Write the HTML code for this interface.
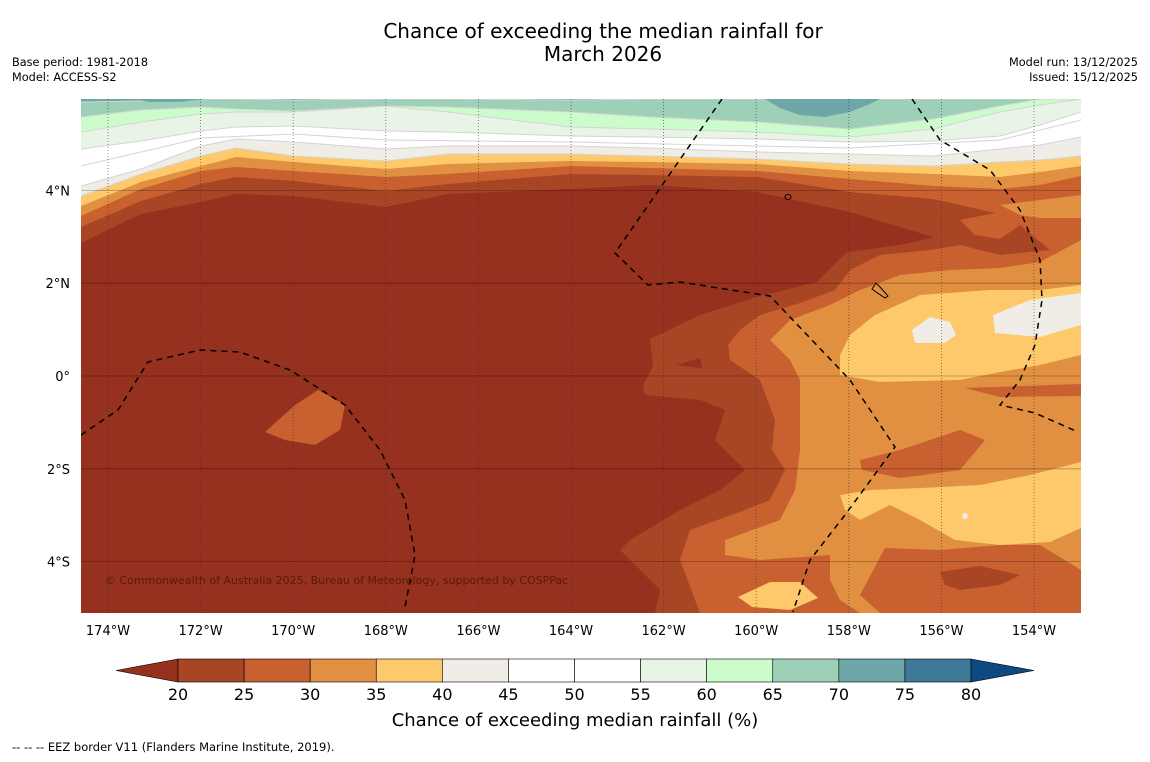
<!DOCTYPE html>
<html><head><meta charset="utf-8"><style>
body{margin:0;background:#fff;width:1150px;height:758px;overflow:hidden;font-family:"DejaVu Sans",sans-serif}
</style></head><body>
<svg id="c" width="1150" height="758" xmlns="http://www.w3.org/2000/svg" font-family="DejaVu Sans, sans-serif">
<text x="603" y="38" text-anchor="middle" font-size="20">Chance of exceeding the median rainfall for</text>
<text x="603" y="61" text-anchor="middle" font-size="20">March 2026</text>
<text x="12" y="66" font-size="11.3">Base period: 1981-2018</text>
<text x="12" y="81" font-size="11.3">Model: ACCESS-S2</text>
<text x="1138" y="66" font-size="11.3" text-anchor="end">Model run: 13/12/2025</text>
<text x="1138" y="81" font-size="11.3" text-anchor="end">Issued: 15/12/2025</text>
<defs><clipPath id="mc"><rect x="81" y="99" width="1000" height="514"/></clipPath></defs>
<g id="map" clip-path="url(#mc)"></g>
<g id="axes"></g>
<g id="cbar"></g>
<text x="575" y="726" text-anchor="middle" font-size="18">Chance of exceeding median rainfall (%)</text>
<text x="12" y="751" font-size="11.5">--  --  -- EEZ border V11 (Flanders Marine Institute, 2019).</text>
</svg>
<script>
const NS="http://www.w3.org/2000/svg";
const lonTicks=[-174,-172,-170,-168,-166,-164,-162,-160,-158,-156,-154];
const latTicks=[4,2,0,-2,-4];
const cbValues=[20,25,30,35,40,45,50,55,60,65,70,75,80];
const cbColors=["#a84524","#c8602f","#e09040","#fdc96a","#f0ece6","#ffffff","#ffffff","#e8f5e6","#ccfccc","#9ed0b8","#6fa6a8","#3d7897"];
const lowColor="#96301f", highColor="#0e4a80";
const X=lon=>108+(lon+174)*46.3;
const Y=lat=>376-lat*46.4;
function el(t,a,p){const e=document.createElementNS(NS,t);for(const k in a)e.setAttribute(k,a[k]);(p||document.getElementById('c')).appendChild(e);return e;}
const map=document.getElementById('map');
let b=el('rect',{x:81,y:99,width:1000,height:514,fill:lowColor},map);


const bx=[81,141,201,236,294,386,448,571,650,757,850,933,1000,1040,1081];
const bands=[
 [0,[243,214,202,194,196,207,194,189,185,192,212,237,230,220,215]],
 [1,[227,201,184,177,181,191,184,174,175,177,192,199,214,205,195]],
 [2,[216,189,171,167,171,177,174,166,168,171,179,186,189,185,176]],
 [3,[206,182,166,157,162,169,164,161,162,164,171,174,177,172,166]],
 [4,[196,174,156,148,156,161,154,154,156,159,164,166,162,160,156]],
 [5,[186,169,146,139,142,149,146,146,148,152,154,156,149,145,137]],
 [7,[149,141,131,127,126,131,132,136,137,139,142,141,136,125,112]],
 [8,[132,122,114,112,112,106,112,127,129,132,137,129,112,105,99]],
 [9,[117,110,107,109,111,106,107,112,117,122,129,119,106,99,99]],
 [10,[102,101,99,99,100,99,99,100,99,99,99,99,99,99,99]]
];
const right={
0:[["1081,200 960,215 935,237 900,245 847,252 817,282 760,296 700,315 650,339 653,366 643,386 645,395 700,400 725,410 715,440 745,470 720,490 680,510 630,540 620,550 660,590 655,613 1081,613"]],
1:[["1081,205 1000,212 960,220 975,235 1000,239 1020,225 1050,250 1000,255 960,245 930,250 880,255 850,270 835,290 800,303 760,315 740,330 728,345 730,360 760,380 775,420 772,450 785,470 770,500 745,510 690,530 680,560 700,613 1081,613"],["265,432 295,405 318,390 345,405 340,430 315,445 285,440"]],
2:[["1081,240 1040,262 1000,268 950,270 900,275 860,290 830,305 790,320 770,340 790,360 800,380 800,450 795,490 780,520 725,540 725,555 760,560 830,555 830,580 840,600 860,613 1081,613"],["1081,195 1040,200 1000,205 1020,215 1040,218 1081,218"]],
3:[["1081,285 1040,290 990,290 920,295 875,315 850,335 840,355 840,375 880,382 960,380 1000,372 1040,365 1081,355"],["840,495 870,490 920,488 980,485 1030,475 1081,462 1081,528 1050,542 1000,545 955,540 920,520 890,505 860,520 845,510"],["738,597 770,582 800,582 818,598 790,610 752,607"]],
4:[["912,330 930,317 950,322 956,335 945,343 915,343"],["993,315 1030,300 1081,293 1081,325 1040,337 995,333"]],
10:[["765,99 780,108 800,115 825,117 850,112 870,104 880,99"],["130,99 150,102 180,102 205,99"]]
};
const patches=[
 [1,"860,460 900,450 960,430 985,440 960,470 900,478 862,470"],
 [1,"885,548 940,550 1000,545 1040,545 1081,570 1081,613 880,613 860,595"],
 [1,"965,388 1081,384 1081,396 1000,397"],
 [0,"940,572 980,566 1020,575 1000,585 960,590 945,585"],
 [-1,"676,365 700,358 702,368"]
];
for(let lvl=0;lvl<12;lvl++){
 bands.filter(d=>d[0]===lvl).forEach(d=>{
  let pts="81,99 "+bx.map((x,i)=>x+","+d[1][i]).join(" ")+" 1081,99";
  const p=el('polygon',{points:pts,fill:cbColors[lvl]},map);
  
  
  if(lvl>=4){const l=el('polyline',{points:bx.map((x,i)=>x+","+d[1][i]).join(" "),fill:"none",stroke:"#d4d4d4","stroke-width":1},map);
   }
 });
 (right[lvl]||[]).forEach(r=>{
  const p=el('polygon',{points:r[0],fill:cbColors[lvl]},map);
  
  
 });
}
patches.forEach(pp=>{
 const p=el('polygon',{points:pp[1],fill:pp[0]<0?lowColor:cbColors[pp[0]]},map);
 
 
});
let wl=el('polyline',{points:"81,166 201,138 294,134 386,140 571,142 757,146 850,148 1000,140 1081,120",fill:"none",stroke:"#d4d4d4","stroke-width":1},map);

let sp=el('circle',{cx:965,cy:516,r:3,fill:"#f0ece6"},map);


lonTicks.forEach(l=>{const g=el('line',{x1:X(l),x2:X(l),y1:99,y2:613,stroke:"#333","stroke-width":0.8,"stroke-dasharray":"1,2",opacity:0.7},map);
 });
latTicks.forEach(l=>{const g=el('line',{x1:81,x2:1081,y1:Y(l),y2:Y(l),stroke:"#000","stroke-width":0.8,opacity:0.3},map);
 });
["722,99 615,253 648,285 680,282 770,296 850,380 895,447 845,515 810,560 793,612",
 "912,99 940,140 990,170 1020,210 1040,260 1042,300 1035,345 1020,380 1000,405 1035,413 1078,432",
 "81,435 118,410 148,362 200,350 240,352 290,370 345,405 380,450 405,500 415,555 405,607"].forEach(s=>{
 const p=el('polyline',{points:s,fill:"none",stroke:"#000","stroke-width":1.5,"stroke-dasharray":"6,5"},map);
 });
let is=el('ellipse',{cx:788,cy:197,rx:3,ry:2.5,fill:"none",stroke:"#000"},map);

let is2=el('path',{d:"M872,289 L876,283 L880,287 L888,296 L885,298 L876,292Z",fill:"none",stroke:"#000"},map);

let cp=el('text',{x:105,y:584,"font-size":11,fill:"#5a1a0a"},map);cp.textContent="© Commonwealth of Australia 2025, Bureau of Meteorology, supported by COSPPac";

const ax=document.getElementById('axes');
lonTicks.forEach(l=>{const t=el('text',{x:X(l),y:635,"text-anchor":"middle","font-size":13},ax);t.textContent=Math.abs(l)+"°W";
 });
latTicks.forEach(l=>{const t=el('text',{x:70,y:Y(l)+5,"text-anchor":"end","font-size":13},ax);t.textContent=l===0?"0°":Math.abs(l)+"°"+(l>0?"N":"S");
 });
const cb=document.getElementById('cbar');
const cx0=178,cw=(971-178)/12,cy=659,ch=23;
let lt=el('polygon',{points:`${cx0},${cy} 116,${cy+ch/2} ${cx0},${cy+ch}`,fill:lowColor,stroke:"#000","stroke-width":0.6},cb);

cbColors.forEach((c,i)=>{const r=el('rect',{x:cx0+i*cw,y:cy,width:cw,height:ch,fill:c,stroke:"#000","stroke-width":0.6},cb);
 });
let ht=el('polygon',{points:`971,${cy} 1034,${cy+ch/2} 971,${cy+ch}`,fill:highColor,stroke:"#000","stroke-width":0.6},cb);

cbValues.forEach((v,i)=>{const t=el('text',{x:cx0+i*cw,y:700,"text-anchor":"middle","font-size":16},cb);t.textContent=v;
 });
</script>
</body></html>
